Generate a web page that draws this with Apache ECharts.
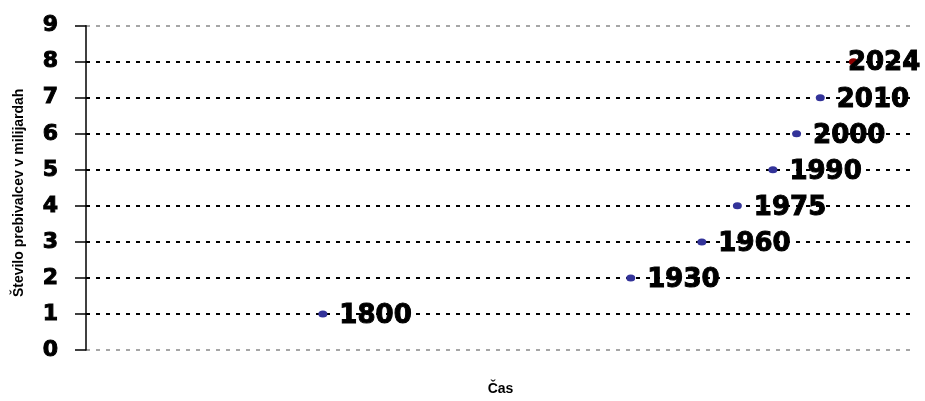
<!DOCTYPE html>
<html>
<head>
<meta charset="utf-8">
<script src="https://cdn.jsdelivr.net/npm/echarts@6/dist/echarts.min.js"></script>
<style>
html,body{margin:0;padding:0;background:#fff;}
#chart{width:925px;height:401px;}
</style>
</head>
<body>
<div id="chart"></div>
<script>
var years = [1800, 1930, 1960, 1975, 1990, 2000, 2010, 2024];
var populations = [1, 2, 3, 4, 5, 6, 7, 8];
var yTicks = [0, 1, 2, 3, 4, 5, 6, 7, 8, 9];
var yAxisTitle = 'Število prebivalcev v milijardah';
var xAxisTitle = 'Čas';

var blue = '#333399';
var red = '#8b0000';

var data = years.map(function (y, i) {
  var last = i === years.length - 1;
  return {
    value: [y, populations[i]],
    itemStyle: { color: last ? red : blue, opacity: 1 },
    label: last ? { offset: [-22, 2] } : undefined
  };
});

var gridColors = yTicks.map(function (t, i) {
  return (i === 0 || i === yTicks.length - 1) ? '#a6a6a6' : '#000';
});

var chart = echarts.init(document.getElementById('chart'));
chart.setOption({
  animation: false,
  grid: { left: 86, right: 10, top: 25.7, bottom: 43 },
  xAxis: {
    type: 'value', min: 1700, max: 2050,
    axisLine: { show: false }, axisTick: { show: false },
    axisLabel: { show: false }, splitLine: { show: false },
    name: xAxisTitle, nameLocation: 'middle', nameGap: 32,
    nameTextStyle: { fontFamily: 'Liberation Sans, Arial', fontWeight: 'bold', fontSize: 14, color: '#000' }
  },
  yAxis: {
    type: 'value', min: 0, max: 9, interval: 1,
    axisLine: { show: true, lineStyle: { color: '#000', width: 1.5 } },
    axisTick: { show: true, length: 11, lineStyle: { color: '#000', width: 1.5 } },
    axisLabel: {
      margin: 28, color: '#000', fontFamily: 'DejaVu Sans', fontWeight: 'bold', fontSize: 22,
      textBorderColor: '#000', textBorderWidth: 1,
      formatter: function (v) { return String(v); }
    },
    splitLine: { show: true, lineStyle: { color: gridColors, type: [4, 6], width: 2 } },
    name: yAxisTitle, nameLocation: 'middle', nameGap: 60, nameRotate: 90,
    nameTextStyle: { fontFamily: 'Liberation Sans, Arial', fontWeight: 'bold', fontSize: 14, color: '#000', padding: [0, 10, 0, 0] }
  },
  series: [{
    type: 'scatter',
    symbol: 'circle',
    symbolSize: [9, 7],
    data: data,
    label: {
      show: true, position: 'right', distance: 12, offset: [0, 2],
      color: '#000', fontFamily: 'DejaVu Sans', fontWeight: 'bold', fontSize: 26,
      textBorderColor: '#000', textBorderWidth: 1,
      formatter: function (p) { return String(p.value[0]); }
    }
  }]
});
</script>
</body>
</html>
